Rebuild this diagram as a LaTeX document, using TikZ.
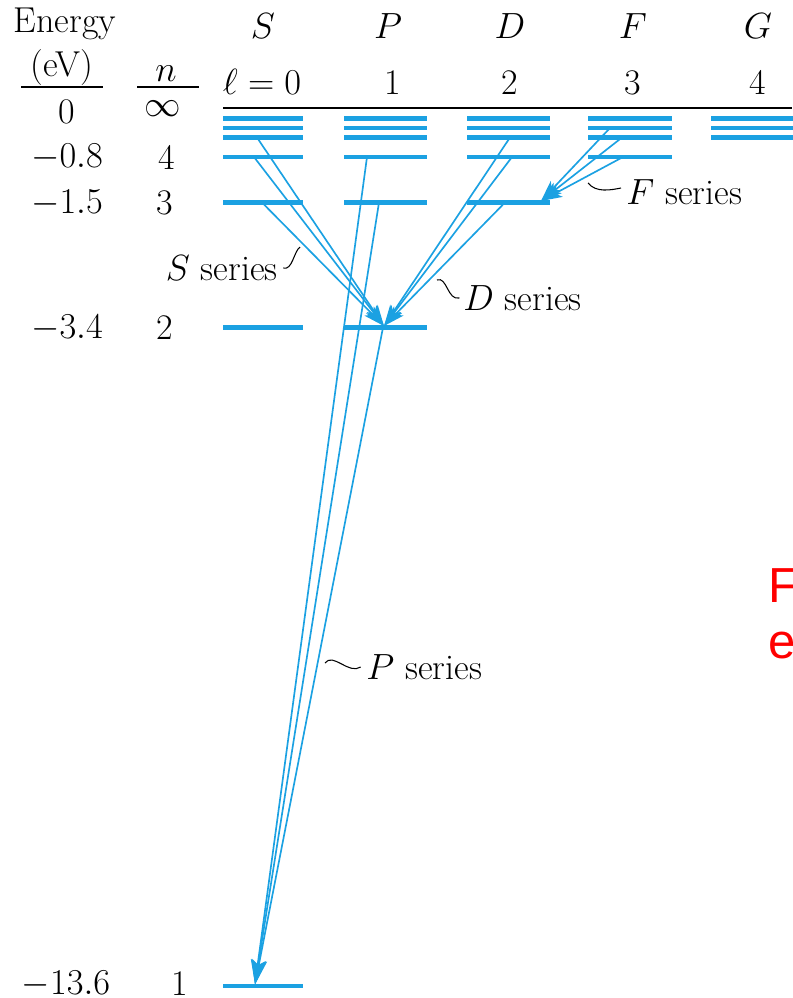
\documentclass[tikz,border=0pt]{standalone}
\usepackage{fontspec}
\usepackage{amsmath}
\usepackage{xcolor}
\usepackage{tikz}
\usetikzlibrary{arrows.meta}
\newfontfamily\redsans{Liberation Sans}
\definecolor{lvlblue}{RGB}{27,161,226}

\begin{document}
\begin{tikzpicture}[x=0.02cm, y=-0.02cm,
      level/.style={draw=lvlblue, line width=2.5pt},
      trans/.style={color=lvlblue, line width=0.95pt,
                    -{Stealth[length=12pt, width=7.5pt, inset=3pt]}},
      ptrans/.style={trans, -{Stealth[length=14pt, width=8.5pt, inset=3pt]}},
      lead/.style={draw=black, line width=0.6pt},
      lbl/.style={inner sep=0pt},
      font=\fontsize{20.5}{24}\selectfont
    ]
    \useasboundingbox (0,0) rectangle (792,998);
    % Header
    \node[lbl, anchor=base] (energy) at (65,32) {Energy};
    \node[lbl, anchor=base] (ev)     at (62,76) {(eV)};
    \node[lbl, anchor=base] (nsym)   at (166,81) {$n$};
    \draw[line width=0.9pt] (21,87) -- (103,87);
    \draw[line width=0.9pt] (137,87) -- (199,87);
    \node[lbl, anchor=base] (hs) at (263,38) {$S$};
    \node[lbl, anchor=base] (hp) at (388,38) {$P$};
    \node[lbl, anchor=base] (hd) at (510,38) {$D$};
    \node[lbl, anchor=base] (hf) at (633,38) {$F$};
    \node[lbl, anchor=base] (hg) at (758,38) {$G$};
    \node[lbl, anchor=base] (l0) at (262,94) {$\ell = 0$};
    \node[lbl, anchor=base] (l1) at (393,94) {1};
    \node[lbl, anchor=base] (l2) at (510,94) {2};
    \node[lbl, anchor=base] (l3) at (633,94) {3};
    \node[lbl, anchor=base] (l4) at (758,94) {4};
    % Energies and n
    \node[lbl] (e0)   at (67,112)  {0};
    \node[lbl] (ninf) at (163,109) {$\infty$};
    \node[lbl] (e4)   at (67,157)  {$-0.8$};
    \node[lbl] (n4)   at (167,157) {4};
    \node[lbl] (e3)   at (67,203)  {$-1.5$};
    \node[lbl] (n3)   at (165,203) {3};
    \node[lbl] (e2)   at (67,328)  {$-3.4$};
    \node[lbl] (n2)   at (165,328) {2};
    \node[lbl] (e1)   at (66,984)  {$-13.6$};
    \node[lbl] (n1)   at (180,984) {1};
    % Levels
    \draw[line width=1.2pt] (223,108) -- (792,108);
    \foreach \y in {118.5,128,137.5,157,202.5,327.5,986}
      \draw[level] (223,\y) -- (303,\y);
    \foreach \y in {118.5,128,137.5,157,202.5,327.5}
      \draw[level] (344,\y) -- (427,\y);
    \foreach \y in {118.5,128,137.5,157,202.5}
      \draw[level] (467,\y) -- (550,\y);
    \foreach \y in {118.5,128,137.5,157}
      \draw[level] (588,\y) -- (672,\y);
    \foreach \y in {118.5,128,137.5}
      \draw[level] (711,\y) -- (795,\y);
    % Transition end points
    \coordinate (s5) at (257,137.5);
    \coordinate (s4) at (254,157);
    \coordinate (s3) at (262,202.5);
    \coordinate (p4) at (367,157);
    \coordinate (p3) at (379,202.5);
    \coordinate (p2) at (383,327.5);
    \coordinate (d5) at (510,137.5);
    \coordinate (d4) at (512,157);
    \coordinate (d3) at (505,202.5);
    \coordinate (f6) at (610,128);
    \coordinate (f5) at (622,137.5);
    \coordinate (f4) at (623,157);
    \coordinate (p2top) at (384,326);
    \coordinate (d3top) at (541,201);
    \coordinate (s1top) at (255,984.5);
    % Arrows
    \foreach \a in {s5,s4,s3,d5,d4,d3}
      \draw[trans] (\a) -- (p2top);
    \foreach \a in {f6,f5,f4}
      \draw[trans] (\a) -- (d3top);
    \foreach \a in {p4,p3,p2}
      \draw[ptrans] (\a) -- (s1top);
    % Series labels
    \node[lbl, anchor=east] (sser) at (278,268) {$S$ series};
    \node[lbl, anchor=west] (dser) at (463,298) {$D$ series};
    \node[lbl, anchor=west] (fser) at (626,192) {$F$ series};
    \node[lbl, anchor=west] (pser) at (366,667) {$P$ series};
    \coordinate (sl) at (300,247);
    \coordinate (dl) at (437,280);
    \coordinate (fl) at (588,183);
    \coordinate (pl) at (325,663);
    \draw[lead] ([xshift=3]sser.east) .. controls +(9,3) and +(-6,4) .. (sl);
    \draw[lead] (dl) .. controls +(10,-4) and +(-12,3) .. ([xshift=-2]dser.west);
    \draw[lead] (fl) .. controls +(8,10) and +(-10,2) .. ([shift={(-5,-4)}]fser.west);
    \draw[lead] (pl) .. controls +(8,-11) and +(-12,8) .. ([xshift=-3]pser.west);
    % Cut-off text
    \node[lbl, anchor=base west, text=red, font=\redsans\fontsize{28}{30}\selectfont]
      (redf) at (768,602) {F};
    \node[lbl, anchor=base west, text=red, font=\redsans\fontsize{28}{30}\selectfont]
      (rede) at (768,658) {e};
  \end{tikzpicture}
\end{document}
